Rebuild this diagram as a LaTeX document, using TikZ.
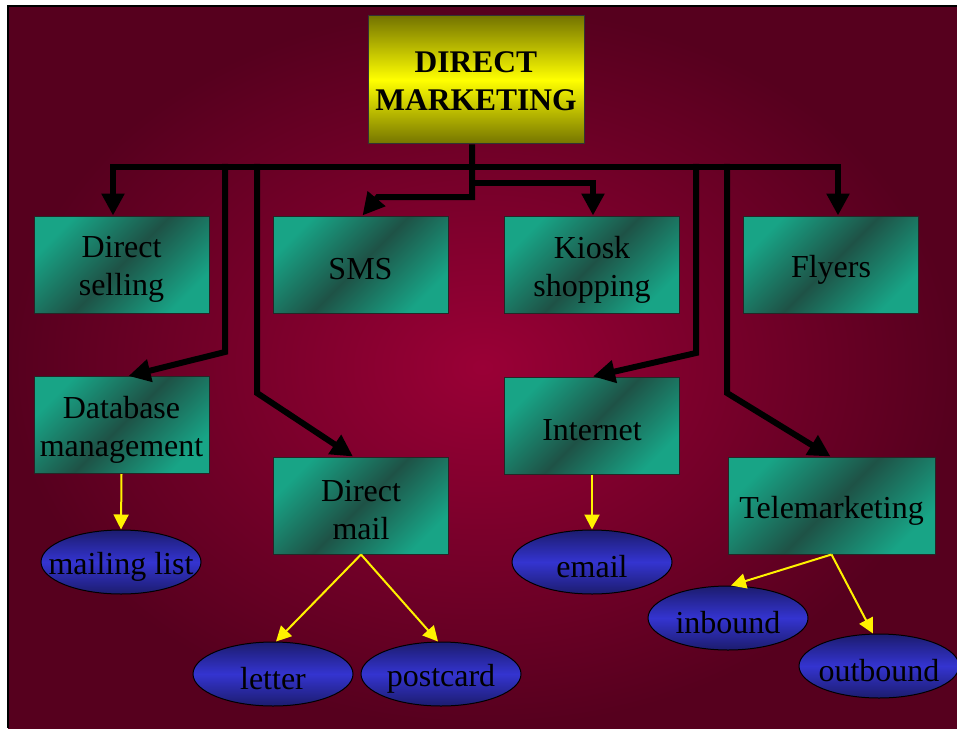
\documentclass[tikz,border=0pt]{standalone}
\usepackage{fontspec}
\setmainfont{Liberation Serif}
\usetikzlibrary{arrows.meta,shapes.geometric}

\definecolor{bgin}{RGB}{154,0,54}
\definecolor{bgout}{RGB}{86,0,30}
\definecolor{teallight}{RGB}{24,164,134}
\definecolor{tealdark}{RGB}{30,82,70}
\definecolor{olive}{RGB}{116,116,0}
\definecolor{navy}{RGB}{28,28,110}
\definecolor{bluemid}{RGB}{52,52,208}

\tikzset{
  topbox/.style={rectangle, draw=black!80, line width=1pt,
    top color=olive, bottom color=olive, middle color=yellow,
    minimum width=216pt, minimum height=128pt, inner sep=0pt},
  tealbox/.style={rectangle, draw=black!85, line width=1pt,
    top color=teallight, bottom color=teallight, middle color=tealdark,
    shading angle=45,
    minimum width=175pt, minimum height=97pt, inner sep=0pt},
  leaf/.style={ellipse, draw=black, line width=1pt,
    top color=navy, bottom color=navy, middle color=bluemid,
    minimum width=160pt, minimum height=64pt, inner sep=0pt},
  title/.style={inner sep=0pt, align=center, font=\bfseries\fontsize{31.5}{38}\selectfont},
  lbl/.style={inner sep=0pt, align=center, font=\fontsize{32}{38}\selectfont},
  bar/.style={draw=black, line width=6pt},
  bararrow/.style={bar, -{Triangle[length=22pt,width=22pt]}},
  twoarrow/.style={bar, {Triangle[length=22pt,width=22pt]}-{Triangle[length=22pt,width=22pt]}},
  yarrow/.style={draw=yellow, line width=2pt, -{Triangle[length=15pt,width=15pt]}}
}

\begin{document}
\begin{tikzpicture}[x=1pt,y=-1pt]
  \useasboundingbox (0,0) rectangle (957,730);
  \fill[white] (0,0) rectangle (957,730);

  % slide background
  \shade[inner color=bgin, outer color=bgout] (8,6) rectangle (957,728);
  \draw[black, line width=2pt] (8,728) -- (8,6) -- (957,6);

  % boxes
  \node[topbox] (dm) at (476,80) {};

  \node[tealbox] (ds)     at (121.5,264.5) {};
  \node[tealbox] (sms)    at (360.5,264.5) {};
  \node[tealbox] (kiosk)  at (592,264.5)   {};
  \node[tealbox] (flyers) at (831,264.5)   {};

  \node[tealbox] (db)       at (121.5,425)   {};
  \node[tealbox] (internet) at (592,425.5)   {};
  \node[tealbox] (dmail)    at (361,505.5)   {};
  \node[tealbox, minimum width=207pt] (tele) at (831.5,505.5) {};

  % leaves
  \node[leaf] (ml)       at (121,562) {};
  \node[leaf] (email)    at (592,562) {};
  \node[leaf] (letter)   at (273,674) {};
  \node[leaf] (postcard) at (441,674) {};
  \node[leaf] (inbound)  at (728,618) {};
  \node[leaf] (outbound) at (879,666) {};

  % labels, set a little below the geometric centre
  \node[title] (dmT) at ([yshift=-1.5pt]dm.center) {DIRECT\\MARKETING};
  \node[lbl] (dsT)  at ([yshift=-5pt]ds.center) {Direct\\selling};
  \node[lbl] (smsT) at ([yshift=-5pt]sms.center) {SMS};
  \node[lbl] (kiT)  at ([yshift=-5pt]kiosk.center) {Kiosk\\shopping};
  \node[lbl] (flT)  at ([yshift=-5pt]flyers.center) {Flyers};
  \node[lbl] (dbT)  at ([yshift=-5pt]db.center) {Database\\management};
  \node[lbl] (inT)  at ([yshift=-5pt]internet.center) {Internet};
  \node[lbl] (dmlT) at ([yshift=-5pt]dmail.center) {Direct\\mail};
  \node[lbl] (teT)  at ([yshift=-5pt]tele.center) {Telemarketing};
  \node[lbl] (mlT)  at ([yshift=-5pt]ml.center) {mailing list};
  \node[lbl] (emT)  at ([yshift=-5pt]email.center) {email};
  \node[lbl] (leT)  at ([yshift=-5pt]letter.center) {letter};
  \node[lbl] (pcT)  at ([yshift=-5pt]postcard.center) {postcard};
  \node[lbl] (ibT)  at ([yshift=-5pt]inbound.center) {inbound};
  \node[lbl] (obT)  at ([yshift=-5pt]outbound.center) {outbound};

  % junction points of the black connectors
  \coordinate (busR)    at (838,167);
  \coordinate (stemK)   at (472,183);
  \coordinate (stemS)   at (472,197);
  \coordinate (smsbend) at (378,197);
  \coordinate (dbtop)   at (225,164);
  \coordinate (dbbend)  at (225,352);
  \coordinate (dmtop)   at (257,164);
  \coordinate (dmbend)  at (257,393);
  \coordinate (intop)   at (696,164);
  \coordinate (inbend)  at (696,353);
  \coordinate (tmtop)   at (727,164);
  \coordinate (tmbend)  at (727,393);

  % black connectors
  \draw[twoarrow] ([xshift=-8.5pt]ds.north) |- (busR) -- ([xshift=7pt]flyers.north);
  \draw[bararrow] ([xshift=-4pt]dm.south) -- (stemS) -- (smsbend) -- ([xshift=2pt]sms.north);
  \draw[bararrow] (stemK) -| ([xshift=1pt]kiosk.north);
  \draw[bararrow] (dbtop) -- (dbbend) -- ([xshift=7pt]db.north);
  \draw[bararrow] (dmtop) -- (dmbend) -- ([xshift=-8pt]dmail.north);
  \draw[bararrow] (intop) -- (inbend) -- ([xshift=1pt]internet.north);
  \draw[bararrow] (tmtop) -- (tmbend) -- ([xshift=-1pt]tele.north);

  % yellow connectors
  \draw[yarrow] (db.south) -- (ml.north);
  \draw[yarrow] (internet.south) -- (email.north);
  \draw[yarrow] (dmail.south) -- ([xshift=3pt]letter.north);
  \draw[yarrow] (dmail.south) -- ([xshift=-3pt]postcard.north);
  \draw[yarrow] (tele.south) -- ([xshift=3pt]inbound.north);
  \draw[yarrow] (tele.south) -- ([xshift=-6pt]outbound.north);
\end{tikzpicture}
\end{document}
